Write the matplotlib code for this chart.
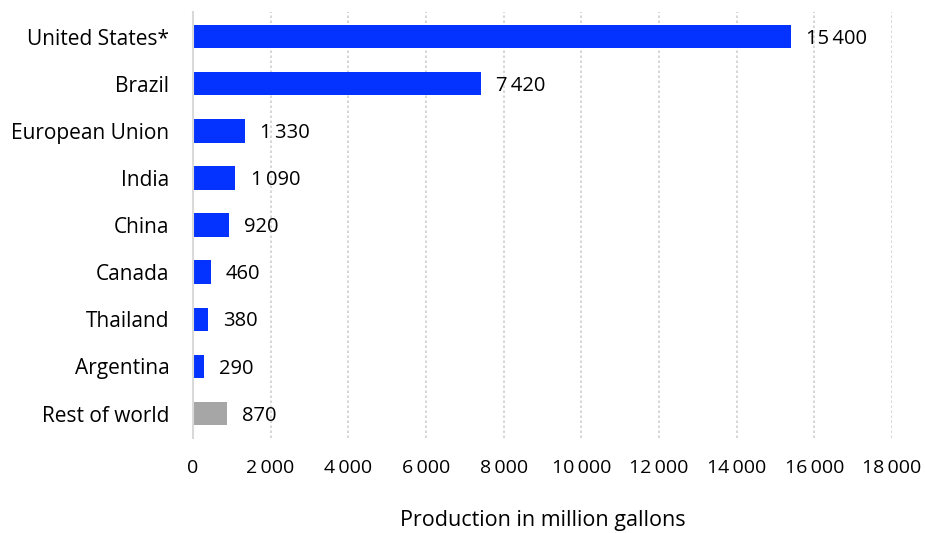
import matplotlib.pyplot as plt
from matplotlib.ticker import FuncFormatter

plt.rcParams['font.family'] = ['Open Sans', 'DejaVu Sans']

countries = ['United States*', 'Brazil', 'European Union', 'India', 'China',
             'Canada', 'Thailand', 'Argentina', 'Rest of world']
production = [15400, 7420, 1330, 1090, 920, 460, 380, 290, 870]
colors = ['#0433ff'] * 8 + ['#a6a6a6']
xticks = list(range(0, 18001, 2000))


def fmt(v):
    return f'{int(v):,}'.replace(',', '\u2009')


fig = plt.figure(figsize=(9.25, 5.33), dpi=100)
ax = fig.add_axes([0.2086, 0.178, 0.7557, 0.7995])

pos = list(range(len(countries)))
ax.barh(pos, production, height=0.5, color=colors, zorder=3)
for y, v in zip(pos, production):
    ax.annotate(fmt(v), (v, y), xytext=(11, -1.5), textcoords='offset points',
                ha='left', va='center', fontsize=14.5, color='#000000')

ax.set_ylim(8.52, -0.52)
ax.set_xlim(0, 18000)
ax.set_yticks(pos)
ax.set_yticklabels(countries, fontsize=15)
ax.set_xticks(xticks)
ax.xaxis.set_major_formatter(FuncFormatter(lambda v, p: fmt(v)))
ax.tick_params(axis='x', labelsize=14, length=0, pad=15)
ax.tick_params(axis='y', length=0, pad=17)
ax.grid(axis='x', color='#d0d0d0', linestyle=(0, (1.5, 1.5)), linewidth=1.2, zorder=0)

for s in ['top', 'right', 'bottom']:
    ax.spines[s].set_visible(False)
ax.spines['left'].set_color('#d9d9d9')
ax.spines['left'].set_linewidth(1.5)
ax.spines['left'].set_zorder(4)

ax.set_xlabel('Production in million gallons', fontsize=15.5, labelpad=24)

fig.savefig('out.png', dpi=100)
